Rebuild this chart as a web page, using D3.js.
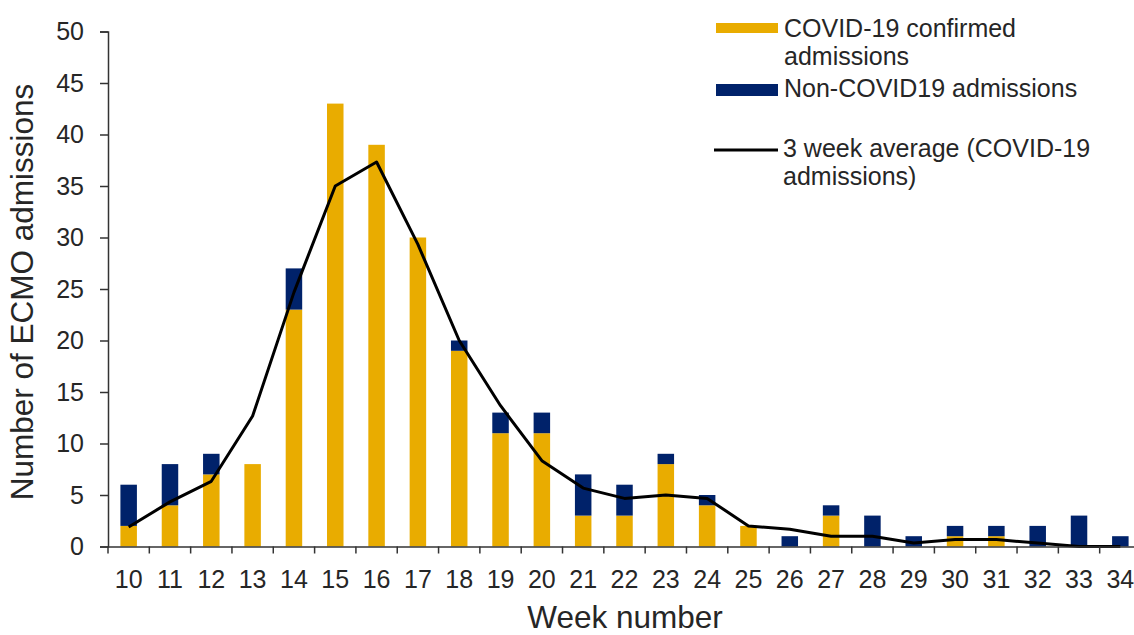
<!DOCTYPE html>
<html><head><meta charset="utf-8">
<script src="https://cdn.jsdelivr.net/npm/d3@7"></script>
<style>body{margin:0;background:#fff;} svg{display:block;font-family:"Liberation Sans",Arial,sans-serif;}</style>
</head><body>
<svg id="c" width="1134" height="635"></svg>
<script>
const weeks = [10,11,12,13,14,15,16,17,18,19,20,21,22,23,24,25,26,27,28,29,30,31,32,33,34];
const covid = [2,4,7,8,23,43,39,30,19,11,11,3,3,8,4,2,0,3,0,0,1,1,0,0,0];
const nonCovid = [4,4,2,0,4,0,0,0,1,2,2,4,3,1,1,0,1,1,3,1,1,1,2,3,1];
const avg3 = [1.9,4.33,6.33,12.67,24.67,35,37.33,29.33,20,13.67,8.33,5.67,4.67,5,4.67,2,1.67,1,1,0.33,0.67,0.67,0.33,0,0];
const yTicks = [0,5,10,15,20,25,30,35,40,45,50];

const svg = d3.select("#c");
const xs = d3.scaleBand().domain(weeks).range([108, 1141]);
const y = d3.scaleLinear().domain([0, 50]).range([546.5, 31.5]);
const YELLOW = "#E9AC00", NAVY = "#00226A", TXT = "#262626";
const FONT = "Liberation Sans, Arial, sans-serif";

// bars
const g = svg.append("g");
weeks.forEach((w, i) => {
  const cx = xs(w) + xs.bandwidth()/2, bw = 16.5;
  if (covid[i] > 0) g.append("rect").attr("x", cx - bw/2).attr("width", bw)
    .attr("y", y(covid[i])).attr("height", y(0) - y(covid[i])).attr("fill", YELLOW);
  if (nonCovid[i] > 0) g.append("rect").attr("x", cx - bw/2).attr("width", bw)
    .attr("y", y(covid[i] + nonCovid[i])).attr("height", y(covid[i]) - y(covid[i] + nonCovid[i])).attr("fill", NAVY);
});

// line
const line = d3.line().x((d, i) => xs(weeks[i]) + xs.bandwidth()/2).y(d => y(d));
svg.append("path").datum(avg3).attr("d", line).attr("fill", "none")
  .attr("stroke", "#000").attr("stroke-width", 3).attr("stroke-linejoin", "round");

// y axis
const ya = svg.append("g").attr("transform", "translate(108,0)")
  .call(d3.axisLeft(y).tickValues(yTicks).tickSize(8).tickPadding(16));
ya.select(".domain").attr("stroke", "#333").attr("stroke-width", 1.5);
ya.selectAll(".tick line").attr("stroke", "#333").attr("stroke-width", 1.5);
ya.selectAll(".tick text").attr("font-size", 25).attr("fill", TXT).attr("font-family", FONT);

// x axis
const xa = svg.append("g").attr("transform", "translate(0," + y(0) + ")")
  .call(d3.axisBottom(xs).tickSize(0).tickPadding(24));
xa.select(".domain").attr("stroke", "#333").attr("stroke-width", 1.5);
xa.selectAll(".tick text").attr("font-size", 25).attr("fill", TXT).attr("font-family", FONT);
// boundary ticks
weeks.forEach(w => {
  const bx = xs(w);
  svg.append("line").attr("x1", bx).attr("x2", bx).attr("y1", y(0)).attr("y2", y(0) + 7)
    .attr("stroke", "#333").attr("stroke-width", 1.5);
});

// titles
svg.append("text").attr("transform", "translate(33,292) rotate(-90)").attr("text-anchor", "middle")
  .attr("font-size", 31.5).attr("fill", TXT).text("Number of ECMO admissions");
svg.append("text").attr("x", 625).attr("y", 628).attr("text-anchor", "middle")
  .attr("font-size", 31.5).attr("fill", TXT).text("Week number");

// legend
const lg = svg.append("g").attr("font-size", 25).attr("fill", TXT);
lg.append("rect").attr("x", 716).attr("y", 23).attr("width", 62).attr("height", 10).attr("fill", YELLOW);
lg.append("text").attr("x", 784).attr("y", 37).text("COVID-19 confirmed");
lg.append("text").attr("x", 784).attr("y", 65).text("admissions");
lg.append("rect").attr("x", 716).attr("y", 84).attr("width", 62).attr("height", 12).attr("fill", NAVY);
lg.append("text").attr("x", 784).attr("y", 97).text("Non-COVID19 admissions");
lg.append("line").attr("x1", 714).attr("x2", 778).attr("y1", 150).attr("y2", 150).attr("stroke", "#000").attr("stroke-width", 3);
lg.append("text").attr("x", 783).attr("y", 157).text("3 week average (COVID-19");
lg.append("text").attr("x", 783).attr("y", 185).text("admissions)");
</script>
</body></html>
